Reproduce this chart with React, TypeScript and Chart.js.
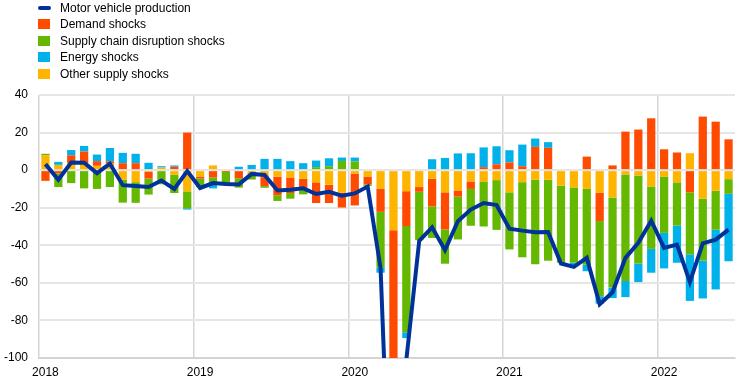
import React, { useEffect, useRef } from "react";
import { Chart, registerables } from "chart.js";

Chart.register(...registerables);

const months: string[] = [
  "2018-01","2018-02","2018-03","2018-04","2018-05","2018-06","2018-07","2018-08","2018-09","2018-10","2018-11","2018-12",
  "2019-01","2019-02","2019-03","2019-04","2019-05","2019-06","2019-07","2019-08","2019-09","2019-10","2019-11","2019-12",
  "2020-01","2020-02","2020-03","2020-04","2020-05","2020-06","2020-07","2020-08","2020-09","2020-10","2020-11","2020-12",
  "2021-01","2021-02","2021-03","2021-04","2021-05","2021-06","2021-07","2021-08","2021-09","2021-10","2021-11","2021-12",
  "2022-01","2022-02","2022-03","2022-04","2022-05","2022-06",
];

const otherSupply: number[] = [
  8.0, 2.8, 3.7, 3.7, 2.3, 3.5, -5.1, -6.4, -1.0, 1.4, -2.5, -11.3,
  -3.4, 2.5, 0, 0, -2.5, -3.7, -3.5, -3.9, -4.6, -6.5, -7.8, -12.0,
  -1.8, -3.4, -10.0, -32.0, -11.2, -9.0, -4.6, -11.8, -10.8, -6.0, -6.0, -5.3,
  -11.8, -6.4, -5.1, -5.1, -8.3, -9.2, -10.0, -12.1, -14.5, -2.3, -2.8, -8.7,
  -3.4, -6.5, 9.0, -15.2, -11.0, -4.8,
];

const demand: number[] = [
  -5.7, -1.8, 4.2, 6.2, 2.5, 1.2, 3.7, 3.7, -3.5, 0, 1.8, 20.0,
  -1.1, -3.9, -1.0, -4.3, 0, -4.8, -9.9, -8.3, -6.0, -11.0, -9.7, -7.9,
  -17.0, -4.2, -12.2, -110.0, -18.6, -2.5, -14.7, -19.8, -3.3, -4.0, 1.6, 3.1,
  4.1, 2.1, 12.4, 11.9, 0, 0, 7.2, -15.0, 2.5, 20.5, 21.6, 27.6,
  11.1, 9.4, -11.8, 28.5, 25.8, 16.4,
];

const supplyChain: number[] = [
  0.7, -7.2, -6.9, -9.7, -10.0, -9.0, -12.2, -11.0, -8.5, -7.5, -9.7, -9.0,
  -4.5, -2.5, -6.3, -5.0, -2.5, -0.9, -3.0, -3.0, -2.3, 1.6, 2.1, 4.9,
  4.6, -0.8, -29.7, 0, -56.5, -25.8, -16.8, -18.2, -22.8, -19.6, -24.0, -26.5,
  -30.4, -40.0, -45.0, -43.1, -41.0, -40.0, -40.3, -40.0, -48.0, -56.7, -46.9, -33.2,
  -30.0, -23.0, -33.0, -32.9, -20.7, -7.8,
];

const energy: number[] = [
  0, 1.6, 2.8, 3.0, 3.5, 7.1, 5.5, 5.0, 3.9, 0.7, 0.7, -0.7,
  0, -3.3, 0, 1.8, 2.8, 6.0, 6.0, 4.8, 3.7, 3.5, 4.2, 1.8,
  2.1, 0, -2.7, 0, -3.1, 0, 5.8, 6.5, 8.9, 9.0, 10.5, 9.6,
  6.5, 11.5, 4.4, 3.0, 0, -1.5, -3.5, -4.0, -5.6, -8.6, -9.9, -12.7,
  -18.9, -19.8, -24.8, -20.2, -31.8, -35.9,
];

const motorVehicle: number[] = [
  3.2, -5.1, 4.1, 4.0, -1.6, 3.4, -8.0, -8.5, -9.0, -5.5, -10.0, -0.5,
  -9.5, -6.9, -7.4, -7.6, -2.0, -2.6, -10.8, -10.4, -9.7, -12.7, -11.5, -13.6,
  -12.4, -8.7, -52.0, -230.0, -101.0, -37.6, -30.4, -42.6, -27.2, -21.0, -17.5, -18.6,
  -31.2, -32.2, -33.0, -32.9, -49.7, -51.5, -46.7, -71.4, -65.0, -46.7, -38.7, -26.9,
  -41.4, -39.6, -59.6, -39.0, -37.0, -31.7,
];

const yTicks: number[] = [40, 20, 0, -20, -40, -60, -80, -100];

const COLORS = {
  line: "#003299",
  demand: "#FF4B00",
  supply: "#65B800",
  energy: "#00B1EA",
  other: "#FFB400",
};

const legendItems = [
  { label: "Motor vehicle production", color: COLORS.line, kind: "line" },
  { label: "Demand shocks", color: COLORS.demand, kind: "box" },
  { label: "Supply chain disruption shocks", color: COLORS.supply, kind: "box" },
  { label: "Energy shocks", color: COLORS.energy, kind: "box" },
  { label: "Other supply shocks", color: COLORS.other, kind: "box" },
];

const FONT = "'Liberation Sans', Arial, sans-serif";

export default function App() {
  const canvasRef = useRef<HTMLCanvasElement | null>(null);

  useEffect(() => {
    if (!canvasRef.current) return;
    const barCommon = {
      type: "bar" as const,
      stack: "bars",
      order: 1,
      borderWidth: 0,
      categoryPercentage: 0.8,
      barPercentage: 0.8,
    };
    const chart = new Chart(canvasRef.current, {
      type: "bar",
      data: {
        labels: months,
        datasets: [
          {
            type: "line" as const,
            label: "Motor vehicle production",
            data: motorVehicle,
            borderColor: COLORS.line,
            backgroundColor: COLORS.line,
            borderWidth: 4,
            pointRadius: 0,
            tension: 0,
            stack: "line",
            order: 0,
          } as any,
          { ...barCommon, label: "Other supply shocks", data: otherSupply, backgroundColor: COLORS.other },
          { ...barCommon, label: "Demand shocks", data: demand, backgroundColor: COLORS.demand },
          { ...barCommon, label: "Supply chain disruption shocks", data: supplyChain, backgroundColor: COLORS.supply },
          { ...barCommon, label: "Energy shocks", data: energy, backgroundColor: COLORS.energy },
        ],
      },
      options: {
        responsive: false,
        animation: false,
        devicePixelRatio: 1,
        layout: { padding: { top: 95, right: 9, left: 0, bottom: 0 } },
        plugins: {
          legend: { display: false },
          tooltip: { enabled: false },
        },
        scales: {
          x: {
            stacked: true,
            offset: true,
            grid: {
              offset: true,
              drawTicks: false,
              lineWidth: 1.5,
              color: (ctx: any) => (ctx.index % 12 === 0 ? "#d6d6d6" : "rgba(0,0,0,0)"),
            },
            border: { display: true, color: "#d4d4d4", width: 2 },
            ticks: {
              autoSkip: false,
              maxRotation: 0,
              padding: 7,
              color: "#000",
              font: { family: FONT, size: 12 },
              callback: (_v: any, index: number) =>
                index % 12 === 0 ? months[index].slice(0, 4) : "",
            },
            afterFit: (scale: any) => {
              scale.height = 34;
            },
          },
          y: {
            stacked: true,
            min: -100,
            max: 40,
            afterBuildTicks: (scale: any) => {
              scale.ticks = yTicks.map((v) => ({ value: v }));
            },
            grid: {
              drawTicks: false,
              lineWidth: 2,
              color: "#e6e6e6",
            },
            border: { display: false },
            ticks: {
              padding: 11,
              color: "#000",
              font: { family: FONT, size: 12 },
            },
            afterFit: (scale: any) => {
              scale.width = 39;
            },
          },
        },
      },
    });
    return () => chart.destroy();
  }, []);

  return (
    <div
      style={{
        position: "fixed",
        left: 0,
        top: 0,
        width: 744,
        height: 392,
        background: "#fff",
        fontFamily: FONT,
      }}
    >
      <canvas
        ref={canvasRef}
        width={744}
        height={392}
        style={{ position: "absolute", left: 0, top: 0, width: 744, height: 392 }}
      />
      {legendItems.map((item, i) => {
        const cy = 8 + i * 16.4;
        return (
          <div
            key={item.label}
            style={{
              position: "absolute",
              left: 38,
              top: cy - 8,
              height: 16,
              lineHeight: "16px",
              fontSize: 12,
              color: "#000",
              whiteSpace: "nowrap",
            }}
          >
            <span
              style={{
                position: "absolute",
                left: 0,
                top: item.kind === "line" ? 6 : 3,
                width: item.kind === "line" ? 13 : 12,
                height: item.kind === "line" ? 4 : 10,
                borderRadius: item.kind === "line" ? 2 : 0,
                background: item.color,
              }}
            />
            <span style={{ position: "absolute", left: 22, top: 0 }}>{item.label}</span>
          </div>
        );
      })}
    </div>
  );
}
